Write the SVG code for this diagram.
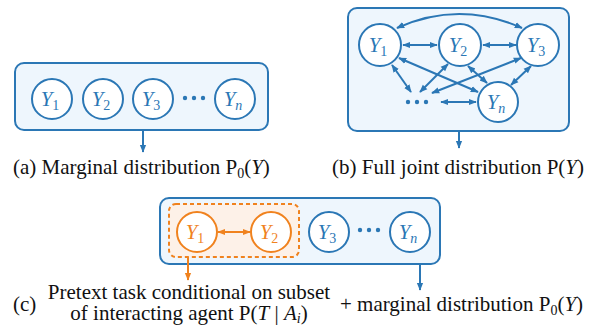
<svg xmlns="http://www.w3.org/2000/svg" width="589" height="326" viewBox="0 0 589 326">
<style>
.box{fill:#eef6fd;stroke:#2b77b5;stroke-width:2}
.obox{fill:#fdf1e8;stroke:#f0821e;stroke-width:2;stroke-dasharray:4 3}
.n{fill:#ffffff;stroke:#2b77b5;stroke-width:2}
.on{fill:#ffffff;stroke:#f0821e;stroke-width:2}
.lb{font-size:21px;font-style:italic;fill:#2b77b5;text-anchor:middle}
.olb{font-size:21px;font-style:italic;fill:#f0821e;text-anchor:middle}
.sub{font-size:14px}
.cap{font-size:21px;fill:#111}
.e{fill:none;stroke:#2b77b5;stroke-width:2}
.oe{fill:none;stroke:#f0821e;stroke-width:2}
.dot{fill:#2b77b5}
</style>
<defs>
<marker id="ab" viewBox="0 0 10 10" refX="9" refY="5" markerWidth="8" markerHeight="8" markerUnits="userSpaceOnUse" orient="auto-start-reverse"><path d="M0,1 L10,5 L0,9 z" fill="#2b77b5"/></marker>
<marker id="ao" viewBox="0 0 10 10" refX="9" refY="5" markerWidth="8" markerHeight="8" markerUnits="userSpaceOnUse" orient="auto-start-reverse"><path d="M0,1 L10,5 L0,9 z" fill="#f0821e"/></marker>
</defs>

<!-- Panel a -->
<g id="panel-a">
<rect class="box" x="15" y="63" width="253" height="67" rx="9"/>
</g>
<g id="a-y1"><circle class="n" cx="52" cy="99" r="20"/><text class="lb" font-family="Liberation Serif" x="50" y="106">Y<tspan class="sub" font-style="normal" dy="4">1</tspan></text></g>
<g id="a-y2"><circle class="n" cx="103" cy="99" r="20"/><text class="lb" font-family="Liberation Serif" x="101" y="106">Y<tspan class="sub" font-style="normal" dy="4">2</tspan></text></g>
<g id="a-y3"><circle class="n" cx="153" cy="99" r="20"/><text class="lb" font-family="Liberation Serif" x="151" y="106">Y<tspan class="sub" font-style="normal" dy="4">3</tspan></text></g>
<g id="a-dots"><circle class="dot" cx="185" cy="98" r="2.2"/><circle class="dot" cx="194" cy="98" r="2.2"/><circle class="dot" cx="203" cy="98" r="2.2"/></g>
<g id="a-yn"><circle class="n" cx="235" cy="99" r="20"/><text class="lb" font-family="Liberation Serif" x="233" y="106">Y<tspan class="sub" dy="4">n</tspan></text></g>

<!-- Panel b -->
<g id="panel-b">
<rect class="box" x="348" y="8" width="221" height="123" rx="9"/>
</g>
<g id="b-y1"><circle class="n" cx="380" cy="45" r="21"/><text class="lb" font-family="Liberation Serif" x="378" y="52">Y<tspan class="sub" font-style="normal" dy="4">1</tspan></text></g>
<g id="b-y2"><circle class="n" cx="460" cy="45" r="21"/><text class="lb" font-family="Liberation Serif" x="458" y="52">Y<tspan class="sub" font-style="normal" dy="4">2</tspan></text></g>
<g id="b-y3"><circle class="n" cx="538" cy="45" r="21"/><text class="lb" font-family="Liberation Serif" x="536" y="52">Y<tspan class="sub" font-style="normal" dy="4">3</tspan></text></g>
<g id="b-yn"><circle class="n" cx="498" cy="102" r="20"/><text class="lb" font-family="Liberation Serif" x="496" y="109">Y<tspan class="sub" dy="4">n</tspan></text></g>
<g id="b-dots"><circle class="dot" cx="408" cy="102" r="2.2"/><circle class="dot" cx="417" cy="102" r="2.2"/><circle class="dot" cx="426" cy="102" r="2.2"/></g>

<!-- Panel c -->
<g id="panel-c">
<rect class="box" x="160" y="198" width="280" height="66" rx="9"/>
<rect class="obox" x="169" y="204" width="130" height="53" rx="7"/>
</g>
<g id="c-y1"><circle class="on" cx="197" cy="232" r="20"/><text class="olb" font-family="Liberation Serif" x="195" y="239">Y<tspan class="sub" font-style="normal" dy="4">1</tspan></text></g>
<g id="c-y2"><circle class="on" cx="271" cy="232" r="20"/><text class="olb" font-family="Liberation Serif" x="269" y="239">Y<tspan class="sub" font-style="normal" dy="4">2</tspan></text></g>
<g id="c-y3"><circle class="n" cx="329" cy="232" r="20"/><text class="lb" font-family="Liberation Serif" x="327" y="239">Y<tspan class="sub" font-style="normal" dy="4">3</tspan></text></g>
<g id="c-dots"><circle class="dot" cx="360" cy="230" r="2.2"/><circle class="dot" cx="369" cy="230" r="2.2"/><circle class="dot" cx="378" cy="230" r="2.2"/></g>
<g id="c-yn"><circle class="n" cx="410" cy="232" r="20"/><text class="lb" font-family="Liberation Serif" x="408" y="239">Y<tspan class="sub" dy="4">n</tspan></text></g>

<!-- Connectors -->
<g id="connectors">
<line class="e" x1="143" y1="130" x2="143" y2="152" marker-end="url(#ab)"/>
<line class="e" x1="459" y1="131" x2="459" y2="148" marker-end="url(#ab)"/>
<path class="e" d="M397,28 Q459,0 522,28" marker-start="url(#ab)" marker-end="url(#ab)"/>
<line class="e" x1="403" y1="45" x2="437" y2="45" marker-start="url(#ab)" marker-end="url(#ab)"/>
<line class="e" x1="483" y1="45" x2="516" y2="45" marker-start="url(#ab)" marker-end="url(#ab)"/>
<line class="e" x1="399" y1="58" x2="478" y2="92" marker-start="url(#ab)" marker-end="url(#ab)"/>
<line class="e" x1="392" y1="65" x2="411" y2="92" marker-start="url(#ab)" marker-end="url(#ab)"/>
<line class="e" x1="448" y1="64" x2="420" y2="92" marker-start="url(#ab)" marker-end="url(#ab)"/>
<line class="e" x1="468" y1="66" x2="487" y2="83" marker-start="url(#ab)" marker-end="url(#ab)"/>
<line class="e" x1="521" y1="58" x2="432" y2="93" marker-start="url(#ab)" marker-end="url(#ab)"/>
<line class="e" x1="531" y1="66" x2="511" y2="85" marker-start="url(#ab)" marker-end="url(#ab)"/>
<line class="e" x1="441" y1="102" x2="476" y2="102" marker-start="url(#ab)" marker-end="url(#ab)"/>
<line class="oe" x1="218" y1="232" x2="250" y2="232" marker-start="url(#ao)" marker-end="url(#ao)"/>
<line class="oe" x1="188" y1="257" x2="188" y2="280" marker-end="url(#ao)"/>
<line class="e" x1="420" y1="264" x2="420" y2="290" marker-end="url(#ab)"/>
</g>

<!-- Captions -->
<g id="captions">
<text class="cap" font-family="Liberation Serif" x="13" y="174">(a) Marginal distribution P<tspan class="sub" dy="4">0</tspan><tspan dy="-4">(</tspan><tspan font-style="italic">Y</tspan>)</text>
<text class="cap" font-family="Liberation Serif" x="332" y="174">(b) Full joint distribution P(<tspan font-style="italic">Y</tspan>)</text>
<text class="cap" font-family="Liberation Serif" x="13" y="311">(c)</text>
<text class="cap" font-family="Liberation Serif" x="189" y="299" text-anchor="middle">Pretext task conditional on subset</text>
<text class="cap" font-family="Liberation Serif" x="189" y="320" text-anchor="middle">of interacting agent P(<tspan font-style="italic">T</tspan> | <tspan font-style="italic">A</tspan><tspan class="sub" font-style="italic" dy="3">i</tspan><tspan dy="-3">)</tspan></text>
<text class="cap" font-family="Liberation Serif" x="340" y="311">+ marginal distribution P<tspan class="sub" dy="4">0</tspan><tspan dy="-4">(</tspan><tspan font-style="italic">Y</tspan>)</text>
</g>
</svg>
